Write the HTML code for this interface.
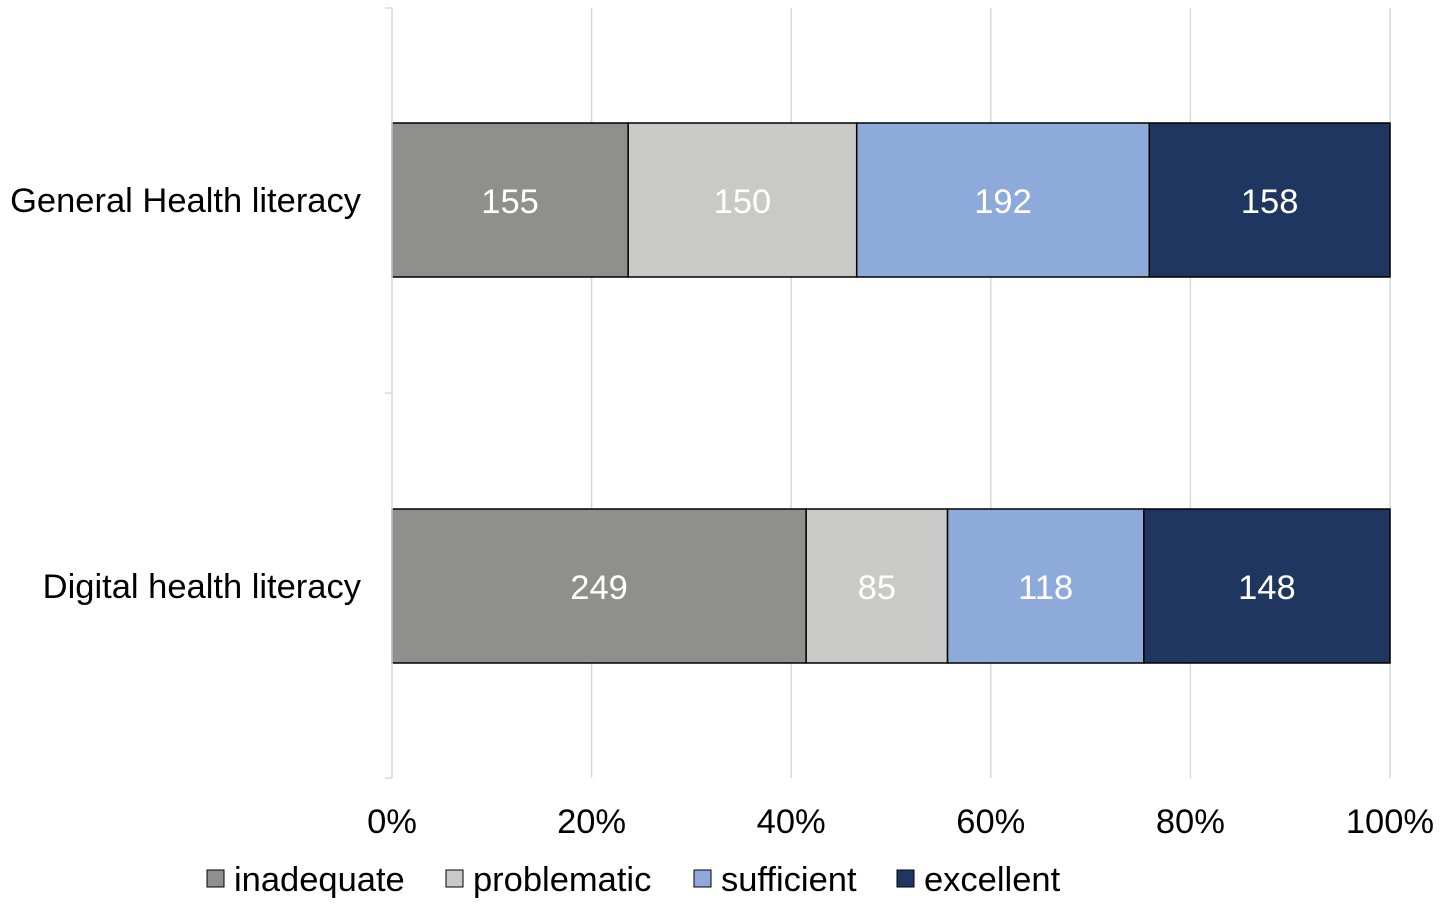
<!DOCTYPE html>
<html><head><meta charset="utf-8"><style>
body{margin:0;background:#fff;}
svg text{font-family:"Liberation Sans",Arial,sans-serif;}
</style></head><body>
<svg width="1441" height="908">
<g id="grid"></g>
<g id="bars"></g>
<g id="axis"></g>
<g id="legend"></g>
</svg>
<script>
const categories = ["General Health literacy", "Digital health literacy"];
const seriesNames = ["inadequate", "problematic", "sufficient", "excellent"];
const inadequate = [155, 249];
const problematic = [150, 85];
const sufficient = [192, 118];
const excellent = [158, 148];
const tickLabels = ["0%", "20%", "40%", "60%", "80%", "100%"];
const tickValues = [0, 20, 40, 60, 80, 100];

const colors = ["#8f8f8d", "#c9c9c7", "#8eaadb", "#1f3760"];
const series = [inadequate, problematic, sufficient, excellent];
const NS = "http://www.w3.org/2000/svg";
const x0 = 392, x1 = 1390;
const FS = 34.5;
const xScale = p => x0 + (x1 - x0) * p / 100;
const catCenter = [200, 586];
const barH = 154;
function mk(tag, attrs, parent) {
  const e = document.createElementNS(NS, tag);
  for (const k in attrs) e.setAttribute(k, attrs[k]);
  parent.appendChild(e);
  return e;
}
const grid = document.getElementById("grid"), bars = document.getElementById("bars"),
      axis = document.getElementById("axis"), legend = document.getElementById("legend");
tickValues.forEach((v, i) => {
  if (v > 0) {
    const l = mk("line", {x1: xScale(v), x2: xScale(v), y1: 8, y2: 778, stroke: "#d9d9d9", "stroke-width": 1.5}, grid);
    
    
  }
  const t = mk("text", {x: xScale(v), y: 833, "text-anchor": "middle", "font-size": FS, fill: "#000"}, axis);
  t.textContent = tickLabels[i];
  
  
});
const yl = mk("line", {x1: x0, x2: x0, y1: 8, y2: 778, stroke: "#d9d9d9", "stroke-width": 1.5}, axis);


[8, 393, 778].forEach(y => {
  const tk = mk("line", {x1: 385, x2: x0, y1: y, y2: y, stroke: "#d9d9d9", "stroke-width": 1.5}, axis);
  
  
});
categories.forEach((c, ci) => {
  const total = series.reduce((s, a) => s + a[ci], 0);
  let cum = 0;
  const yc = catCenter[ci];
  series.forEach((arr, si) => {
    const v = arr[ci];
    const xa = xScale(cum / total * 100), xb = xScale((cum + v) / total * 100);
    const r = mk("rect", {x: xa, y: yc - barH / 2, width: xb - xa, height: barH, fill: colors[si], stroke: "#000", "stroke-width": 1.5}, bars);
    
    
    const t = mk("text", {x: (xa + xb) / 2, y: yc + 13, "text-anchor": "middle", "font-size": FS, fill: "#fff"}, bars);
    t.textContent = v;
    
    
    cum += v;
  });
  const lbl = mk("text", {x: 361, y: yc + 12, "text-anchor": "end", "font-size": FS, fill: "#000"}, axis);
  lbl.textContent = c;
  
  
});
const legX = [207, 446, 694, 897];
seriesNames.forEach((n, i) => {
  const s = mk("rect", {x: legX[i], y: 870, width: 17, height: 17, fill: colors[i], stroke: "#000", "stroke-width": 1}, legend);
  
  
  const t = mk("text", {x: legX[i] + 27, y: 891, "font-size": FS, fill: "#000"}, legend);
  t.textContent = n;
  
  
});
</script>
</body></html>
